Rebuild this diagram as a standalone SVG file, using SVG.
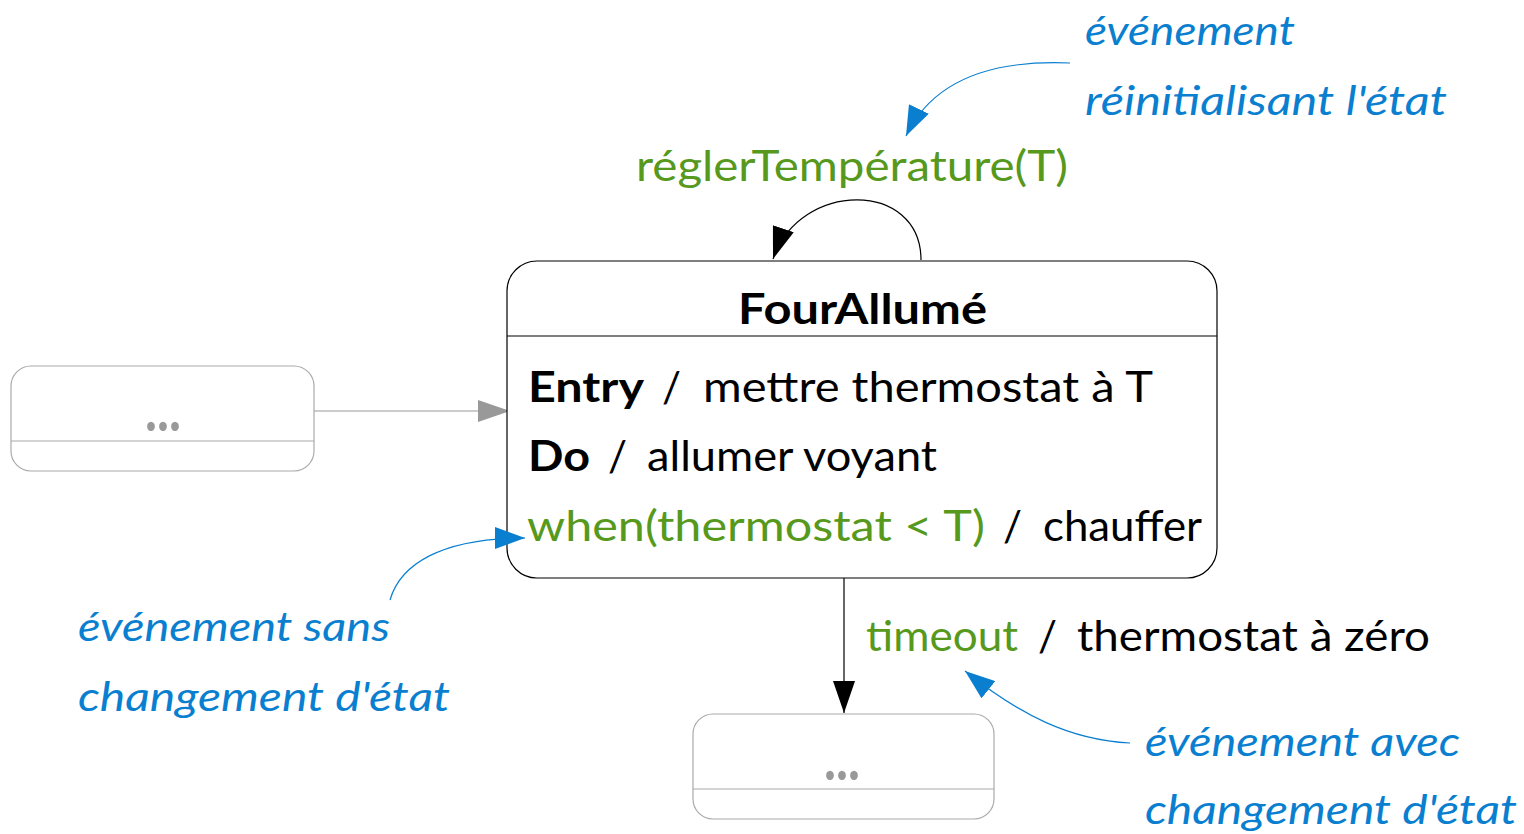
<svg xmlns="http://www.w3.org/2000/svg" width="1524" height="834" viewBox="0 0 1524 834">
<style>
  text { font-family: "Lato", "Liberation Sans", sans-serif; }
  .t { font-size: 42px; fill: #000; }
  .b { font-weight: bold; }
  .g { fill: #56991d; }
  .note { font-size: 40px; font-style: italic; fill: #0a7fd0; }
  .state { fill: #fff; stroke: #000; stroke-width: 1.2; }
  .ghost { fill: #fff; stroke: #aaa; stroke-width: 1.2; }
  .dots { font-size: 62px; font-weight: bold; fill: #999; }
  .edge { fill: none; stroke: #000; stroke-width: 1.2; }
  .edge-gray { fill: none; stroke: #999; stroke-width: 1.2; }
  .edge-blue { fill: none; stroke: #0a7fd0; stroke-width: 1.2; }
</style>
<defs>
  <marker id="ah" markerUnits="userSpaceOnUse" markerWidth="34" markerHeight="22" refX="32" refY="11" orient="auto">
    <path d="M0,0 L32,11 L0,22 z" fill="#000"/>
  </marker>
  <marker id="ahg" markerUnits="userSpaceOnUse" markerWidth="34" markerHeight="22" refX="32" refY="11" orient="auto">
    <path d="M0,0 L32,11 L0,22 z" fill="#999"/>
  </marker>
  <marker id="ahb" markerUnits="userSpaceOnUse" markerWidth="32" markerHeight="22" refX="30" refY="11" orient="auto">
    <path d="M0,0 L30,11 L0,22 z" fill="#0a7fd0"/>
  </marker>
</defs>

<g id="connectors">
  <path class="edge" d="M921,260 C921,180 800,180 773,259" marker-end="url(#ah)"/>
  <path class="edge-gray" d="M314,411 L510,411" marker-end="url(#ahg)"/>
  <path class="edge" d="M844,578 L844,713" marker-end="url(#ah)"/>
  <text class="t g" x="636" y="181" textLength="432" lengthAdjust="spacingAndGlyphs">réglerTempérature(T)</text>
  <text class="t" y="651"><tspan class="g" x="866" textLength="152" lengthAdjust="spacingAndGlyphs">timeout</tspan><tspan x="1038">/</tspan><tspan x="1077" textLength="353" lengthAdjust="spacingAndGlyphs">thermostat à zéro</tspan></text>
</g>

<g id="state-fourallume">
  <rect class="state" x="507" y="261" width="710" height="317" rx="30" ry="30"/>
  <line x1="507" y1="336" x2="1217" y2="336" stroke="#000" stroke-width="1.2"/>
  <text class="t b" x="738" y="324" textLength="249" lengthAdjust="spacingAndGlyphs">FourAllumé</text>
  <text class="t" y="402"><tspan class="b" x="528" textLength="116" lengthAdjust="spacingAndGlyphs">Entry</tspan><tspan x="662">/</tspan><tspan x="703" textLength="450" lengthAdjust="spacingAndGlyphs">mettre thermostat à T</tspan></text>
  <text class="t" y="471"><tspan class="b" x="528" textLength="62" lengthAdjust="spacingAndGlyphs">Do</tspan><tspan x="608">/</tspan><tspan x="647" textLength="290" lengthAdjust="spacingAndGlyphs">allumer voyant</tspan></text>
  <text class="t" y="541"><tspan class="g" x="527" textLength="458" lengthAdjust="spacingAndGlyphs">when(thermostat &lt; T)</tspan><tspan x="1003">/</tspan><tspan x="1043" textLength="159" lengthAdjust="spacingAndGlyphs">chauffer</tspan></text>
</g>

<g id="state-prev">
  <rect class="ghost" x="11" y="366" width="303" height="105" rx="20" ry="20"/>
  <line x1="11" y1="441" x2="314" y2="441" stroke="#aaa" stroke-width="1.2"/>
  <text class="dots" x="145" y="431" textLength="36" lengthAdjust="spacingAndGlyphs">...</text>
</g>

<g id="state-next">
  <rect class="ghost" x="693" y="714" width="301" height="105" rx="20" ry="20"/>
  <line x1="693" y1="789" x2="994" y2="789" stroke="#aaa" stroke-width="1.2"/>
  <text class="dots" x="824" y="780" textLength="36" lengthAdjust="spacingAndGlyphs">...</text>
</g>

<g id="note-reset">
  <path class="edge-blue" d="M1070,63 C1000,60 935,75 906,136" marker-end="url(#ahb)"/>
  <text class="note" x="1085" y="45" textLength="210" lengthAdjust="spacingAndGlyphs">événement</text>
  <text class="note" x="1085" y="115" textLength="362" lengthAdjust="spacingAndGlyphs">réinitialisant l'état</text>
</g>

<g id="note-internal">
  <path class="edge-blue" d="M390,600 C400,565 440,538 525,538" marker-end="url(#ahb)"/>
  <text class="note" x="78" y="641" textLength="312" lengthAdjust="spacingAndGlyphs">événement sans</text>
  <text class="note" x="78" y="711" textLength="372" lengthAdjust="spacingAndGlyphs">changement d'état</text>
</g>

<g id="note-external">
  <path class="edge-blue" d="M1130,743 C1070,740 1020,715 965,671" marker-end="url(#ahb)"/>
  <text class="note" x="1145" y="756" textLength="315" lengthAdjust="spacingAndGlyphs">événement avec</text>
  <text class="note" x="1145" y="824" textLength="372" lengthAdjust="spacingAndGlyphs">changement d'état</text>
</g>
</svg>
